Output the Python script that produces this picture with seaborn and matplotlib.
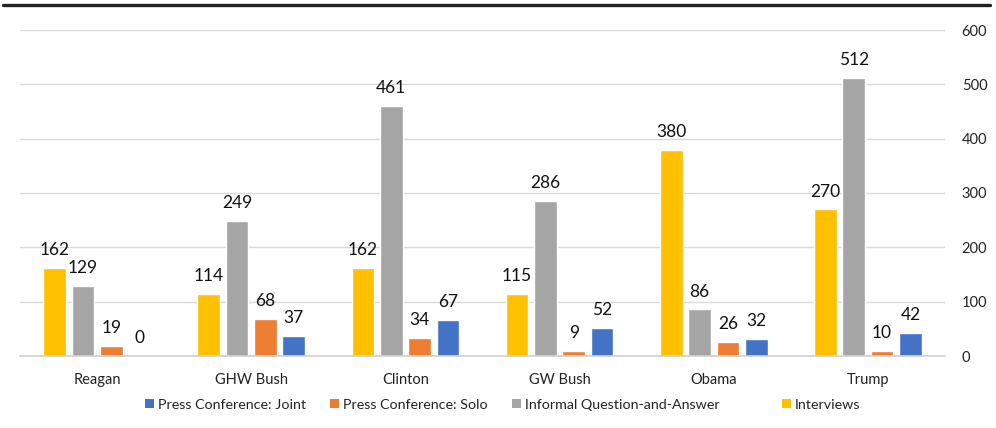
import matplotlib
matplotlib.use("Agg")
import matplotlib.pyplot as plt
from matplotlib.patches import Patch
from matplotlib.lines import Line2D
import seaborn as sns
import pandas as pd

presidents = ["Reagan", "GHW Bush", "Clinton", "GW Bush", "Obama", "Trump"]
interviews = [162, 114, 162, 115, 380, 270]
informal_qa = [129, 249, 461, 286, 86, 512]
press_solo = [19, 68, 34, 9, 26, 10]
press_joint = [0, 37, 67, 52, 32, 42]

series_names = ["Interviews", "Informal Question-and-Answer",
                "Press Conference: Solo", "Press Conference: Joint"]
series_values = [interviews, informal_qa, press_solo, press_joint]
series_colors = ["#FFC000", "#A5A5A5", "#ED7D31", "#4472C4"]
legend_order = ["Press Conference: Joint", "Press Conference: Solo",
                "Informal Question-and-Answer", "Interviews"]
y_ticks = [0, 100, 200, 300, 400, 500, 600]

rows = []
for name, vals in zip(series_names, series_values):
    for pres, v in zip(presidents, vals):
        rows.append({"President": pres, "Type": name, "Count": v})
df = pd.DataFrame(rows)

sns.set_theme(style="white")
plt.rcParams["font.family"] = ["Lato", "DejaVu Sans"]

W, H = 996, 428
fig = plt.figure(figsize=(W / 100, H / 100), dpi=100)
ax = fig.add_axes([20 / W, 1 - 356 / H, (945 - 20) / W, (356 - 30) / H])

palette = dict(zip(series_names, series_colors))
sns.barplot(data=df, x="President", y="Count", hue="Type",
            hue_order=series_names, order=presidents, palette=palette,
            width=0.734, gap=0.2, saturation=1, legend=False, ax=ax,
            errorbar=None)

for cont, vals in zip(ax.containers, series_values):
    ax.bar_label(cont, labels=[str(v) for v in vals], padding=7,
                 fontsize=12.5, color="#111111")

ax.set_ylim(0, 600)
ax.set_xlim(-0.5, len(presidents) - 0.5)
ax.set_yticks(y_ticks)
ax.yaxis.tick_right()
ax.tick_params(axis="y", length=0, pad=12, labelsize=10.5, labelcolor="#222222")
ax.tick_params(axis="x", length=0, pad=12, labelsize=10.5, labelcolor="#222222")
ax.set_xlabel("")
ax.set_ylabel("")
ax.grid(axis="y", color="#D9D9D9", linewidth=1)
ax.set_axisbelow(True)
for side in ["top", "left", "right"]:
    ax.spines[side].set_visible(False)
ax.spines["bottom"].set_color("#D0D0D0")
ax.spines["bottom"].set_linewidth(1.2)

# Legend entries laid out along the bottom
legend_x = [145, 330, 512, 782]
for name, x in zip(legend_order, legend_x):
    handle = Patch(facecolor=palette[name], edgecolor="none")
    fig.legend([handle], [name], loc="center left",
               bbox_to_anchor=(x / W, 1 - 405 / H), frameon=False,
               fontsize=10.3, handlelength=0.6, handleheight=0.6,
               handletextpad=0.3, borderpad=0, borderaxespad=0,
               labelcolor="#222222")

# Heavy rule across the top
fig.add_artist(Line2D([3 / W, 990 / W], [1 - 4.5 / H, 1 - 4.5 / H],
                      color="#222222", linewidth=2.4,
                      transform=fig.transFigure))

fig.savefig("out.png", dpi=100, facecolor="white")
